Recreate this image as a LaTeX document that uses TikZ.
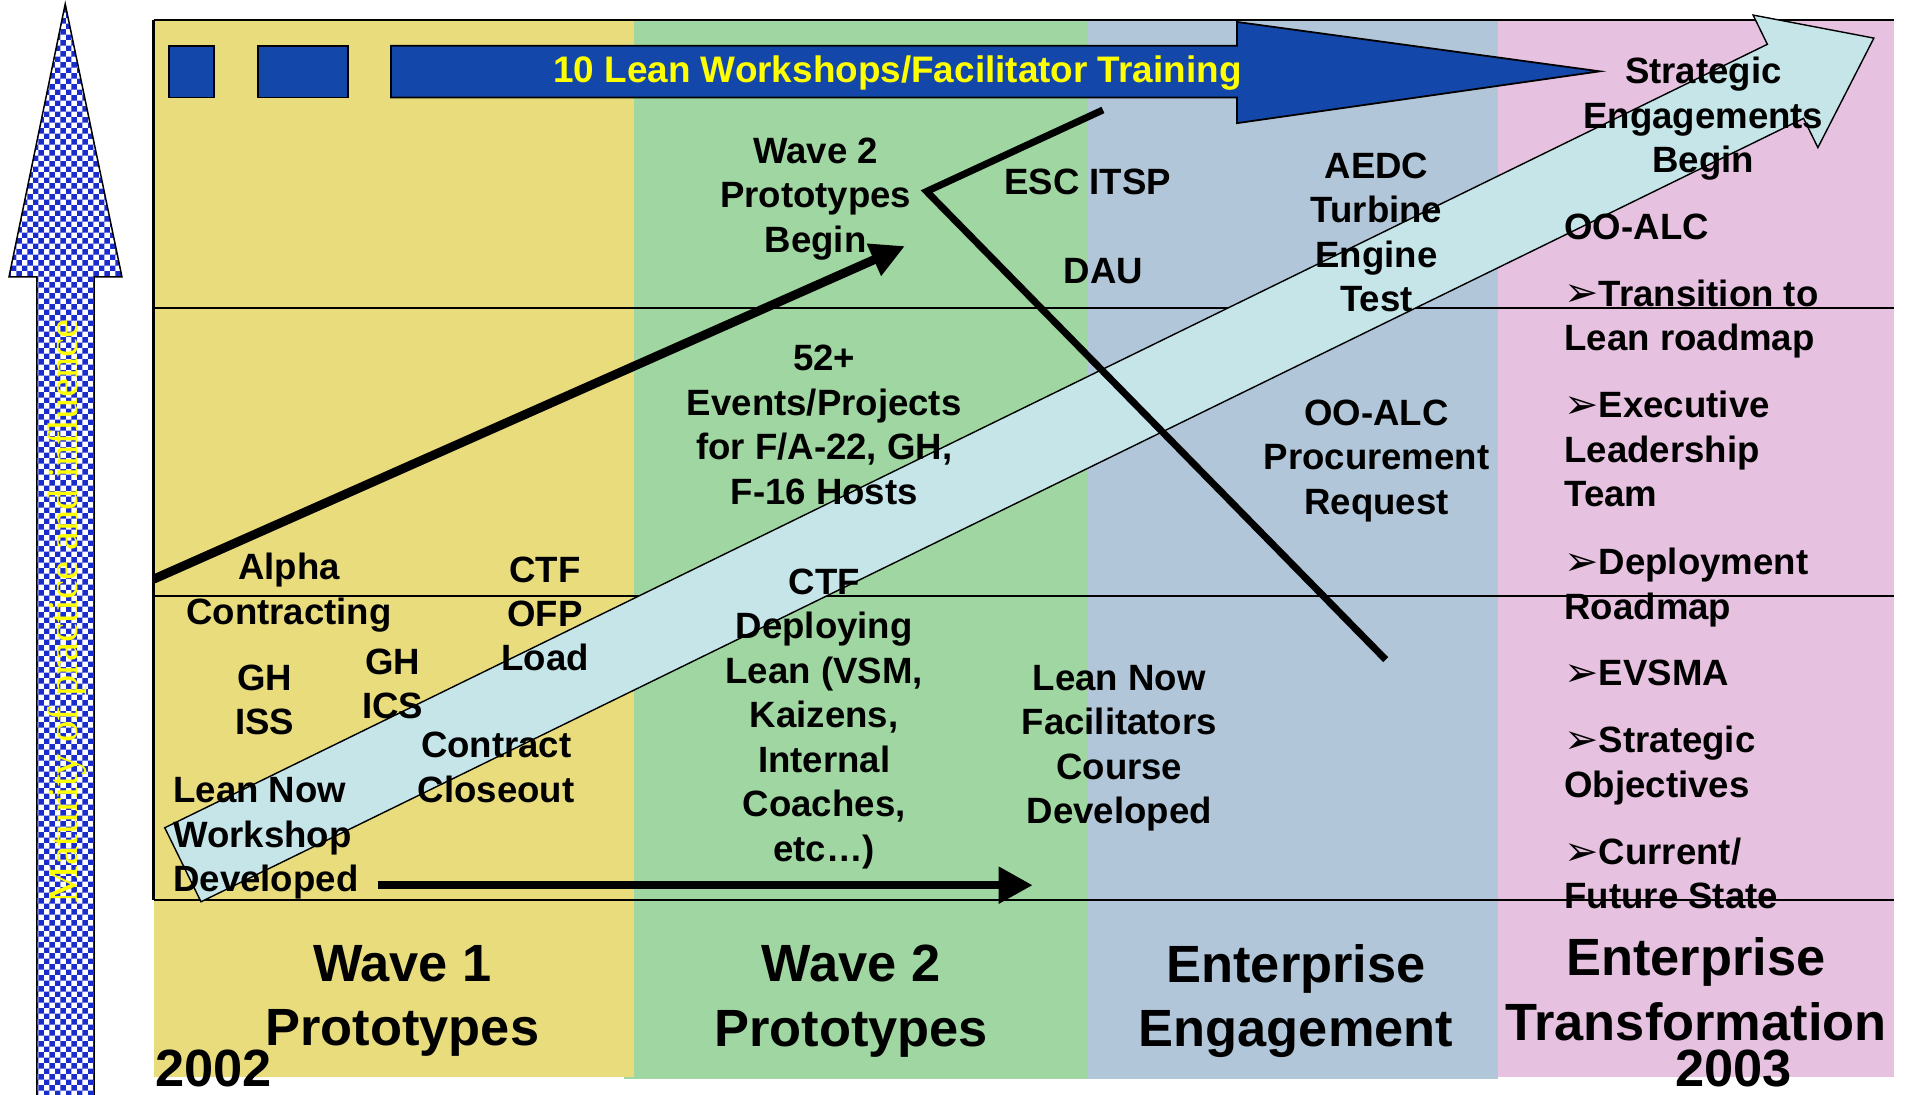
\documentclass[tikz,border=0pt]{standalone}
\usepackage{fontspec}
\setmainfont{Liberation Sans}
\newfontfamily\seriffam{Liberation Serif}
\newfontfamily\bulfont{DejaVu Sans}
\usetikzlibrary{arrows.meta,patterns}
\definecolor{wyellow}{HTML}{E8DC7D}
\definecolor{wgreen}{HTML}{A0D6A1}
\definecolor{wblue}{HTML}{B1C6D8}
\definecolor{wpink}{HTML}{E6C1E0}
\definecolor{barblue}{HTML}{1348AA}
\definecolor{bandcyan}{HTML}{C6E5E8}
\definecolor{chkblue}{HTML}{1A2DCC}
\definecolor{txtyellow}{HTML}{FFFF00}
\newcommand{\bul}{\raisebox{-0.02em}{\scalebox{1.12}{\bulfont\mdseries\char"27A2}}}
\tikzset{
  lbl/.style={font=\fontsize{36.6}{44.5}\selectfont\bfseries, align=center, inner sep=0pt},
  lbll/.style={lbl, align=left, anchor=west},
  bigl/.style={font=\fontsize{52.4}{64.6}\selectfont\bfseries, align=center, inner sep=0pt},
  frameline/.style={line width=2.5pt, black},
  barbox/.style={fill=barblue, draw=black, line width=1.8pt},
  thickln/.style={line width=#1, black},
}
\begin{document}
\begin{tikzpicture}[x=1.2193pt, y=-1.2193pt]
\useasboundingbox (0,0) rectangle (1569,898);
% columns
\fill[wgreen] (512,739) rectangle (892,885);
\fill[wyellow] (126,17) rectangle (520,883);
\fill[wgreen] (520,17) rectangle (892,885);
\fill[wblue] (892,17) rectangle (1228.6,885);
\fill[wpink] (1228.6,17) rectangle (1553,883);
% frame lines
\draw[frameline] (126,16.5) -- (1553,16.5);
\draw[frameline] (126,252.6) -- (1553,252.6);
\draw[frameline] (126,488.8) -- (1553,488.8);
\draw[frameline] (126,738) -- (1553,738);
\draw[frameline] (126,16.5) -- (126,738);
% blue bar
\draw[barbox] (138.6,37.5) rectangle (175.5,80);
\draw[barbox] (211.6,37.5) rectangle (285.4,80);
\draw[barbox] (320.7,37.5) -- (1014.5,37.5) -- (1014.5,18) -- (1312,58.5) -- (1014.5,101) -- (1014.5,80) -- (320.7,80) -- cycle;
\node[font=\fontsize{36.9}{44}\selectfont\bfseries, text=txtyellow, inner sep=0pt] (lw) at (736,60) {10 Lean Workshops/Facilitator Training};
% big cyan band arrow
\draw[fill=bandcyan, draw=black, line width=1.4pt]
  (135.15,678.9) -- (1449.55,36.33) -- (1437.83,12.35) -- (1536.9,31.25)
  -- (1490.97,121.05) -- (1479.25,97.07) -- (164.85,739.62) -- cycle;
% thick lines
\coordinate (d1s) at (126,475);
\coordinate (d1e) at (742.2,201.8);
\draw[thickln=9pt, -{Triangle[length=34pt,width=33pt]}] (d1s) -- (d1e);
\coordinate (p1) at (904.6,90.2);
\coordinate (p2) at (760,157);
\coordinate (p3) at (1136.5,541);
\draw[thickln=7pt] (p1) -- (p2) -- (p3);
\coordinate (h1s) at (310,726);
\coordinate (h1e) at (847,726);
\draw[thickln=8pt, -{Triangle[length=34pt,width=35pt]}] (h1s) -- (h1e);
% texts
\node[lbl] (alpha) at (237,486) {Alpha\\Contracting};
\node[lbl] (ctfa) at (447,503.5) {CTF\\OFP\\Load};
\node[lbl] (ghiss) at (217,574) {GH\\ISS};
\node[lbl] (ghics) at (322,561) {GH\\ICS};
\node[lbl] (contract) at (407,629.5) {Contract\\Closeout};
\node[lbll] (leannow) at (142,687.5) {Lean Now\\Workshop\\Developed};
\node[lbl] (wtwobegin) at (669,163) {Wave 2\\Prototypes\\Begin};
\node[lbl] (events) at (676,348.5) {52+\\Events/Projects\\for F/A-22, GH,\\F-16 Hosts};
\node[lbl] (ctfb) at (676,589.5) {CTF\\Deploying\\Lean (VSM,\\Kaizens,\\Internal\\Coaches,\\etc…)};
\node[lbl] (esc) at (892,149) {ESC ITSP};
\node[lbl] (dau) at (905,222) {DAU};
\node[lbl] (aedc) at (1129,190.5) {AEDC\\Turbine\\Engine\\Test};
\node[lbl] (ooalca) at (1129,378) {OO-ALC\\Procurement\\Request};
\node[lbl] (lnfac) at (918,613.5) {Lean Now\\Facilitators\\Course\\Developed};
\node[lbl] (strat) at (1397,97.5) {Strategic\\Engagements\\Begin};
\node[lbll] (ooalcb) at (1283,186) {OO-ALC};
\node[lbll] (ba) at (1283,261.5) {\bul Transition to\\Lean roadmap};
\node[lbll] (bb) at (1283,368.5) {\bul Executive\\Leadership\\Team};
\node[lbll] (bc) at (1283,482) {\bul Deployment\\Roadmap};
\node[lbll] (bd) at (1283,552) {\bul EVSMA};
\node[lbll] (be) at (1283,628) {\bul Strategic\\Objectives};
\node[lbll] (bf) at (1283,716.5) {\bul Current/\\Future State};
% big labels
\node[bigl] (wone) at (330,821) {Wave 1\\Prototypes};
\node[bigl] (wtwo) at (698,821) {Wave 2\\Prototypes};
\node[bigl] (ee) at (1063,821) {Enterprise\\Engagement};
\node[bigl] (et) at (1391,811.5) {Enterprise\\Transformation};
\node[bigl, anchor=west] (ytwo) at (127,876) {2002};
\node[bigl] (ythree) at (1422,876) {2003};
% left maturity arrow
\path[fill=white, postaction={pattern=checkerboard, pattern color=chkblue}, postaction={draw=black, line width=1.5pt}]
  (30.3,898) -- (30.3,227) -- (7.4,227) -- (53.5,3.3) -- (100,227) -- (77.1,227) -- (77.1,898);
\node[rotate=90, font=\seriffam\fontsize{42.7}{50}\selectfont, text=txtyellow, inner sep=0pt] (mat) at (55,501.5) {Maturity of practice and influence};
\end{tikzpicture}
\end{document}
